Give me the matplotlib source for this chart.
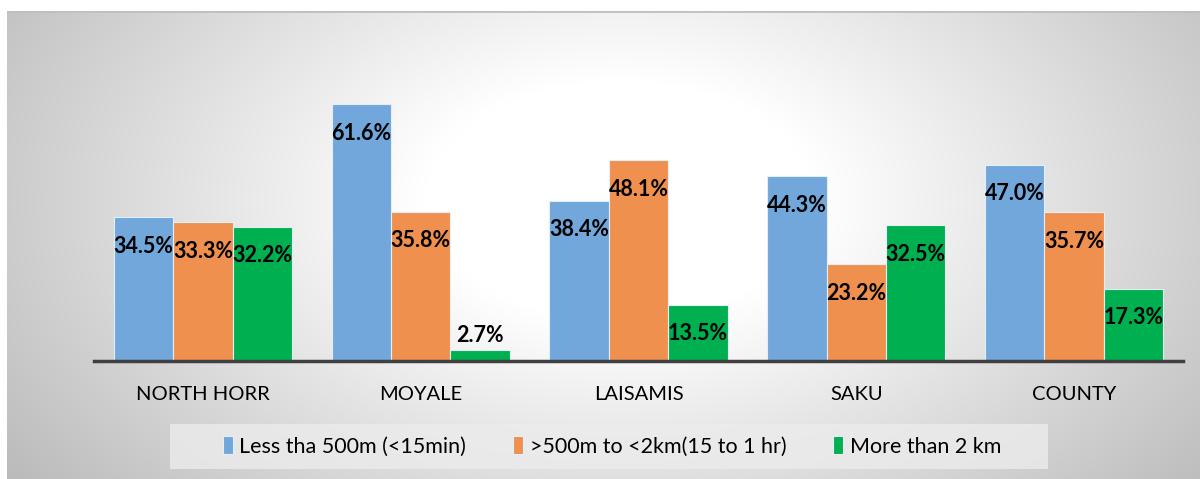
import matplotlib.pyplot as plt
from matplotlib.patches import Rectangle
import numpy as np

# access distance to water source by sub-county
categories = ['NORTH HORR', 'MOYALE', 'LAISAMIS', 'SAKU', 'COUNTY']
series_names = ['Less tha 500m (<15min)', '>500m to <2km(15 to 1 hr)', 'More than 2 km']
less_500m = [34.5, 61.6, 38.4, 44.3, 47.0]
to_2km = [33.3, 35.8, 48.1, 23.2, 35.7]
over_2km = [32.2, 2.7, 13.5, 32.5, 17.3]
colors = ['#71a7da', '#f0904f', '#00b050']

W, H = 1200, 479
fig = plt.figure(figsize=(W / 100, H / 100), dpi=100)
fig.patch.set_facecolor('white')

# radial grey background panel
bg = fig.add_axes([7 / W, 0, (W - 7) / W, (H - 11) / H], zorder=-2)
yy, xx = np.mgrid[11:H, 7:W]
r = np.sqrt(((xx - 620) / 650.0) ** 2 + ((yy - 200) / 400.0) ** 2)
shade = 255 - np.clip((r - 0.3) / 0.75, 0, 1.2) * 59
img = np.dstack([shade, shade, shade]) / 255.0
bg.imshow(img, aspect='auto', extent=[0, 1, 0, 1], origin='upper')
bg.set_xlim(0, 1)
bg.set_ylim(0, 1)
bg.axhline(1, color='#bfbfbf', lw=2)
bg.axis('off')

ax = fig.add_axes([94 / W, 118 / H, 1089 / W, 292 / H])
ax.patch.set_alpha(0)

x = np.arange(len(categories))
bw = 0.273
groups = [less_500m, to_2km, over_2km]
for i, vals in enumerate(groups):
    pos = x + (i - 1) * bw
    ax.bar(pos, vals, width=bw, color=colors[i], edgecolor='#e4eef8',
           linewidth=0.8, label=series_names[i])
    for px, v in zip(pos, vals):
        off = 14 if v < 5 else -29
        ax.annotate(f'{v:.1f}%', (px, v), xytext=(0, off), textcoords='offset pixels',
                    ha='center', va='center', fontsize=15.5, fontweight='bold',
                    family='Lato', color='black')

ax.set_xlim(-0.5, len(categories) - 0.5)
ax.set_ylim(0, 70)
ax.set_yticks([])
ax.set_xticks(x)
ax.set_xticklabels(categories, family='Lato', fontsize=14.5)
ax.tick_params(axis='x', length=0, pad=18)
for s in ['top', 'right', 'left']:
    ax.spines[s].set_visible(False)
ax.spines['bottom'].set_color('#404040')
ax.spines['bottom'].set_linewidth(2.5)

# legend panel
fig.patches.append(Rectangle((170 / W, 1 - 469 / H), 878 / W, 45 / H,
                             transform=fig.transFigure, facecolor='#ececec',
                             alpha=0.8, edgecolor='none', zorder=0))
fig.legend(loc='center', bbox_to_anchor=(612 / W, 1 - 446.5 / H), ncol=3,
           prop={'family': 'Lato', 'size': 15.5}, frameon=False,
           handlelength=0.45, handleheight=0.9,
           handletextpad=0.3, columnspacing=2.2, borderaxespad=0)

plt.savefig('out.png', dpi=100)
